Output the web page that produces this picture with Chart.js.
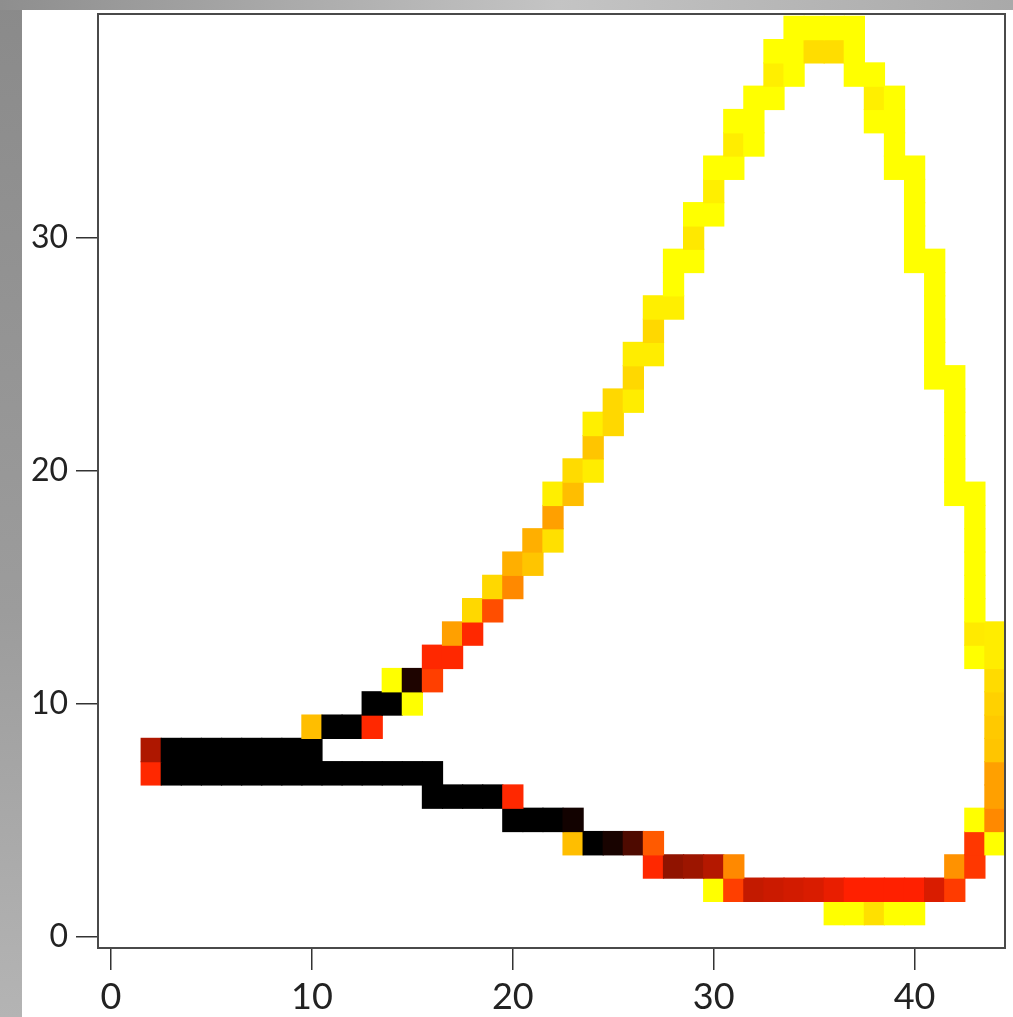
<!DOCTYPE html>
<html>
<head>
<meta charset="utf-8">
<title>Heat trail</title>
<script src="https://cdn.jsdelivr.net/npm/chart.js@4/dist/chart.umd.min.js"></script>
<style>
  html, body { margin: 0; padding: 0; }
  body {
    width: 1013px; height: 1017px; position: relative; overflow: hidden;
    background: linear-gradient(to bottom, #8a8a8a, #9c9c9c 60%, #b4b4b4);
  }
  #top-strip {
    position: absolute; left: 0; top: 0; width: 1013px; height: 10px;
    background: linear-gradient(to right, #8e8e8e, #c4c4c4 55%, #a9a9a9);
  }
  #panel { position: absolute; left: 22px; top: 10px; width: 991px; height: 1007px; background: #fff; }
  #chart-box { position: absolute; left: 0; top: 0; width: 1013px; height: 1017px; }
</style>
</head>
<body>
<div id="top-strip"></div>
<div id="panel"></div>
<div id="chart-box"><canvas id="heat-chart"></canvas></div>

<script>
// Axis ticks
const xTicks = [0, 10, 20, 30, 40];
const yTicks = [0, 10, 20, 30];

// Filled cells, one entry per grid row: row y, the columns x in that row, and the heat level (0 = black, 1 = yellow)
const rowY = [1, 2, 3, 4, 5, 6, 7, 8, 9, 10, 11, 12, 13, 14, 15, 16, 17, 18, 19, 20,
              21, 22, 23, 24, 25, 26, 27, 28, 29, 30, 31, 32, 33, 34, 35, 36, 37, 38, 39];

const rowX = [
  [36, 37, 38, 39, 40],
  [30, 31, 32, 33, 34, 35, 36, 37, 38, 39, 40, 41, 42],
  [27, 28, 29, 30, 31, 42, 43],
  [23, 24, 25, 26, 27, 43, 44],
  [20, 21, 22, 23, 43, 44],
  [16, 17, 18, 19, 20, 44],
  [2, 3, 4, 5, 6, 7, 8, 9, 10, 11, 12, 13, 14, 15, 16, 44],
  [2, 3, 4, 5, 6, 7, 8, 9, 10, 44],
  [10, 11, 12, 13, 44],
  [13, 14, 15, 44],
  [14, 15, 16, 44],
  [16, 17, 43, 44],
  [17, 18, 43, 44],
  [18, 19, 43],
  [19, 20, 43],
  [20, 21, 43],
  [21, 22, 43],
  [22, 43],
  [22, 23, 42, 43],
  [23, 24, 42],
  [24, 42],
  [24, 25, 42],
  [25, 26, 42],
  [26, 41, 42],
  [26, 27, 41],
  [27, 41],
  [27, 28, 41],
  [28, 41],
  [28, 29, 40, 41],
  [29, 40],
  [29, 30, 40],
  [30, 40],
  [30, 31, 39, 40],
  [31, 32, 39],
  [31, 32, 38, 39],
  [32, 33, 38, 39],
  [33, 34, 37, 38],
  [33, 34, 35, 36, 37],
  [34, 35, 36, 37]
];

const rowLevel = [
  [1, 1, 0.88, 1, 1],
  [1, 0.48, 0.32, 0.33, 0.34, 0.35, 0.37, 0.40, 0.40, 0.40, 0.40, 0.35, 0.47],
  [0.42, 0.24, 0.26, 0.30, 0.65, 0.67, 0.46],
  [0.78, 0, 0.04, 0.13, 0.55, 0.46, 1],
  [0, 0, 0, 0.03, 1, 0.65],
  [0, 0, 0, 0, 0.42, 0.70],
  [0.42, 0, 0, 0, 0, 0, 0, 0, 0, 0, 0, 0, 0, 0, 0, 0.70],
  [0.29, 0, 0, 0, 0, 0, 0, 0, 0, 0.80],
  [0.78, 0, 0, 0.42, 0.81],
  [0, 0, 1, 0.83],
  [1, 0.05, 0.48, 0.86],
  [0.42, 0.42, 1, 0.93],
  [0.70, 0.42, 0.92, 0.93],
  [0.85, 0.52, 1],
  [0.85, 0.65, 1],
  [0.74, 0.80, 1],
  [0.74, 0.88, 1],
  [0.70, 1],
  [0.94, 0.78, 1, 1],
  [0.86, 0.93, 1],
  [0.80, 1],
  [0.94, 0.85, 1],
  [0.85, 0.93, 1],
  [0.85, 1, 1],
  [0.93, 0.93, 1],
  [0.85, 1],
  [0.94, 0.94, 1],
  [1, 1],
  [1, 1, 1, 1],
  [0.91, 1],
  [1, 1, 1],
  [0.94, 1],
  [1, 1, 1, 1],
  [0.93, 1, 1],
  [1, 1, 1, 1],
  [1, 1, 0.94, 1],
  [0.94, 1, 1, 1],
  [1, 1, 0.87, 0.87, 1],
  [1, 1, 1, 1]
];

// Heat colour scale: black -> dark red -> red -> orange -> yellow
const heatStops = [
  [0.00, [0, 0, 0]],
  [0.30, [180, 24, 0]],
  [0.40, [255, 32, 0]],
  [0.55, [255, 90, 0]],
  [0.70, [255, 160, 0]],
  [0.85, [255, 216, 0]],
  [1.00, [255, 255, 0]]
];

function heatColor(level) {
  for (let i = 1; i < heatStops.length; i++) {
    const [v1, c1] = heatStops[i];
    const [v0, c0] = heatStops[i - 1];
    if (level <= v1) {
      const t = (level - v0) / (v1 - v0);
      const rgb = c0.map((c, k) => Math.round(c + (c1[k] - c) * t));
      return `rgb(${rgb.join(',')})`;
    }
  }
  return 'rgb(255,255,0)';
}

// Flatten rows into cells
const cells = [];
rowY.forEach((y, r) => {
  rowX[r].forEach((x, k) => {
    cells.push({ x, y, level: rowLevel[r][k] });
  });
});

// Plot frame drawn round the chart area
const boxPlugin = {
  id: 'box',
  afterDatasetsDraw(chart) {
    const { ctx, chartArea } = chart;
    ctx.save();
    ctx.strokeStyle = '#4a4a4a';
    ctx.lineWidth = 2;
    ctx.strokeRect(chartArea.left, chartArea.top, chartArea.right - chartArea.left, chartArea.bottom - chartArea.top);
    ctx.restore();
  }
};

const tickFont = { family: 'Lato, "DejaVu Sans", sans-serif', size: 32 };

const ctx = document.getElementById('heat-chart').getContext('2d');
new Chart(ctx, {
  type: 'bar',
  data: {
    datasets: [{
      data: cells.map(c => ({ x: c.x, y: [c.y - 0.5, c.y + 0.5] })),
      backgroundColor: cells.map(c => heatColor(c.level)),
      borderWidth: 0,
      inflateAmount: 0.6,
      barPercentage: 1,
      categoryPercentage: 1
    }]
  },
  options: {
    responsive: true,
    maintainAspectRatio: false,
    animation: false,
    layout: { padding: { top: 14, right: 8, left: 0, bottom: 0 } },
    plugins: {
      legend: { display: false },
      tooltip: { enabled: false }
    },
    scales: {
      x: {
        type: 'linear',
        min: -0.65,
        max: 44.5,
        offset: false,
        afterBuildTicks: (scale) => { scale.ticks = xTicks.map(v => ({ value: v })); },
        afterFit: (scale) => {
          scale.height = 69;
          scale.paddingLeft = 0;
          scale.paddingRight = 0;
        },
        grid: { offset: false, drawOnChartArea: false, drawTicks: true, tickLength: 22, color: '#333', lineWidth: 1.5 },
        border: { display: false },
        ticks: { font: { ...tickFont, size: 36 }, color: '#222', padding: 6, maxRotation: 0 }
      },
      y: {
        type: 'linear',
        min: -0.5,
        max: 39.6,
        afterBuildTicks: (scale) => { scale.ticks = yTicks.map(v => ({ value: v })); },
        afterFit: (scale) => {
          scale.width = 98;
          scale.paddingTop = 0;
          scale.paddingBottom = 0;
        },
        grid: { drawOnChartArea: false, drawTicks: true, tickLength: 22, color: '#333', lineWidth: 1.5 },
        border: { display: false },
        ticks: { font: tickFont, color: '#222', padding: 8 }
      }
    }
  },
  plugins: [boxPlugin]
});
</script>
</body>
</html>
